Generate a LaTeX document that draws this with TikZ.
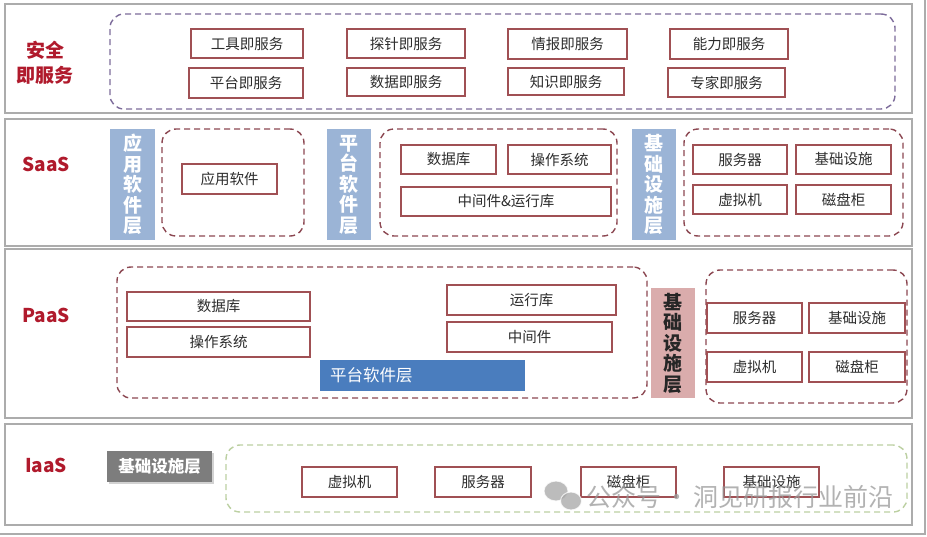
\documentclass[tikz,border=0pt]{standalone}
\usepackage{fontspec}
\setmainfont{Noto Sans CJK SC}
\usetikzlibrary{shadows}
\definecolor{bandgray}{RGB}{172,172,172}
\definecolor{boxred}{RGB}{160,80,84}
\definecolor{lblred}{RGB}{176,26,44}
\definecolor{dashpurple}{RGB}{125,108,155}
\definecolor{dashred}{RGB}{140,72,82}
\definecolor{dashgreen}{RGB}{188,208,162}
\definecolor{barblue}{RGB}{155,180,214}
\definecolor{platblue}{RGB}{74,125,190}
\definecolor{barpink}{RGB}{218,172,172}
\definecolor{graybox}{RGB}{125,125,125}
\definecolor{txt}{RGB}{45,45,45}
\newcommand\rbox[7][box]{\node[#1, minimum width={#5pt-#3pt}, minimum height={#6pt-#4pt}] (#2) at ({(#3+#5)/2},{(#4+#6)/2}) {#7};}
\begin{document}
\begin{tikzpicture}[x=1pt,y=-1pt,
  box/.style={draw=boxred, line width=1.3pt, fill=white, inner sep=0pt, font=\fontsize{14.5}{16}\selectfont, text=txt},
  grp/.style={dash pattern=on 6pt off 4pt, line width=1.4pt, rounded corners=14pt, inner sep=0pt},
  band/.style={draw=bandgray, line width=1.6pt, fill=white, inner sep=0pt},
  lbl/.style={text=lblred, font=\fontsize{19}{25}\selectfont\bfseries, align=center},
  vbar/.style={fill=barblue, text=white, inner sep=0pt, align=center, font=\fontsize{19}{20.5}\selectfont\bfseries},
]
\useasboundingbox (0,0) rectangle (927,536);
\fill[white] (0,0) rectangle (927,536);
\draw[bandgray, line width=2.5pt] (925,0) -- (925,534) -- (0,534);

% bands
\rbox[band]{b1}{5}{4}{912}{113}{}
\rbox[band]{b2}{5}{119}{912}{246}{}
\rbox[band]{b3}{5}{249}{912}{418}{}
\rbox[band]{b4}{5}{424}{912}{525}{}

% labels
\node[lbl] (l1) at (45,63) {安全\\即服务};
\node[lbl] (l2) at (46,164) {SaaS};
\node[lbl] (l3) at (46,315) {PaaS};
\node[lbl] (l4) at (46,465) {IaaS};

% security as a service
\rbox[grp, draw=dashpurple]{g1}{110}{14}{895}{109}{}
\rbox{s1}{191}{29}{303}{58}{工具即服务}
\rbox{s2}{347}{29}{465}{58}{探针即服务}
\rbox{s3}{508}{29}{627}{59}{情报即服务}
\rbox{s4}{670}{29}{788}{59}{能力即服务}
\rbox{s5}{189}{68}{303}{98}{平台即服务}
\rbox{s6}{347}{68}{465}{96}{数据即服务}
\rbox{s7}{508}{68}{624}{95}{知识即服务}
\rbox{s8}{668}{68}{785}{97}{专家即服务}

% SaaS
\rbox[vbar]{vb1}{110}{129}{155}{240}{应\\用\\软\\件\\层}
\rbox[grp, draw=dashred]{g2}{162}{129}{304}{236}{}
\rbox{a1}{182}{164}{277}{194}{应用软件}
\rbox[vbar]{vb2}{327}{129}{371}{240}{平\\台\\软\\件\\层}
\rbox[grp, draw=dashred]{g3}{380}{129}{617}{236}{}
\rbox{p1}{401}{145}{496}{174}{数据库}
\rbox{p2}{508}{145}{611}{174}{操作系统}
\rbox{p3}{401}{187}{611}{216}{中间件\&运行库}
\rbox[vbar]{vb3}{632}{129}{676}{240}{基\\础\\设\\施\\层}
\rbox[grp, draw=dashred]{g4}{684}{129}{903}{236}{}
\rbox{i1}{693}{145}{787}{174}{服务器}
\rbox{i2}{796}{145}{891}{174}{基础设施}
\rbox{i3}{693}{185}{787}{214}{虚拟机}
\rbox{i4}{796}{185}{891}{214}{磁盘柜}

% PaaS
\rbox[grp, draw=dashred]{g5}{117}{267}{647}{398}{}
\rbox{q1}{127}{292}{310}{321}{数据库}
\rbox{q2}{127}{327}{310}{357}{操作系统}
\rbox{q3}{447}{285}{616}{315}{运行库}
\rbox{q4}{447}{322}{612}{352}{中间件}
\node[fill=platblue, text=white, inner xsep=10pt, inner ysep=0pt, text width=185pt, minimum height=31pt, align=left, font=\fontsize{16.5}{18}\selectfont] (pb) at (422.5,375.5) {平台软件层};
\rbox[vbar, fill=barpink, text=black!85]{vp}{651}{288}{695}{398}{基\\础\\设\\施\\层}
\rbox[grp, draw=dashred]{g6}{706}{270}{907}{403}{}
\rbox{r1}{707}{303}{802}{333}{服务器}
\rbox{r2}{809}{303}{905}{333}{基础设施}
\rbox{r3}{707}{352}{802}{382}{虚拟机}
\rbox{r4}{809}{352}{905}{382}{磁盘柜}

% IaaS
\rbox[fill=graybox, text=white, inner sep=0pt, font=\fontsize{16.5}{18}\selectfont\bfseries, drop shadow={opacity=0.35, shadow xshift=1.5pt, shadow yshift=-1.5pt}]{gb}{107}{451}{212}{482}{基础设施层}
\rbox[grp, draw=dashgreen]{g7}{226}{445}{907}{512}{}
\rbox{t1}{302}{467}{397}{497}{虚拟机}
\rbox{t2}{435}{467}{531}{497}{服务器}
\rbox{t3}{581}{467}{676}{497}{磁盘柜}
\rbox{t4}{724}{467}{819}{497}{基础设施}

% watermark
\begin{scope}[opacity=0.75]
\fill[black!35, draw=white, line width=1pt] (556,491) ellipse (12pt and 10pt);
\fill[black!35, draw=white, line width=1pt] (571,501) ellipse (10.5pt and 9pt);
\node[anchor=west, inner sep=0pt, text=black!40, font=\fontsize{25}{27}\selectfont] (wm) at (586,497) {公众号\makebox[32pt]{·}洞见研报行业前沿};
\end{scope}
\end{tikzpicture}
\end{document}
